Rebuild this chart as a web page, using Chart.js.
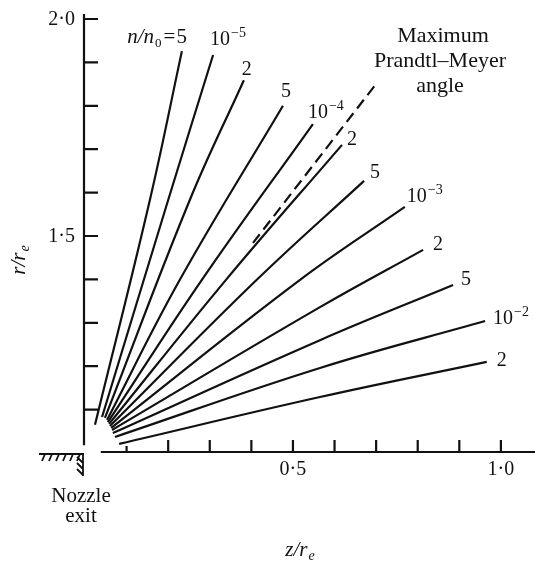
<!DOCTYPE html>
<html>
<head>
<meta charset="utf-8">
<script src="https://cdn.jsdelivr.net/npm/chart.js@4.4.0/dist/chart.umd.min.js"></script>
<style>
  html, body { margin: 0; padding: 0; background: #fff; }
  #wrap { width: 535px; height: 566px; position: relative; }
</style>
</head>
<body>
<div id="wrap"><canvas id="chart"></canvas></div>
<script>
// n/n0 contours behind the nozzle exit as (z/re, r/re)
const lineZ = [
    [0.024, 0.156, 0.233],
    [0.041, 0.200, 0.308],
    [0.048, 0.252, 0.382],
    [0.053, 0.228, 0.476],
    [0.055, 0.281, 0.548],
    [0.058, 0.339, 0.618],
    [0.060, 0.413, 0.671],
    [0.063, 0.517, 0.769],
    [0.065, 0.565, 0.813],
    [0.067, 0.565, 0.885],
    [0.072, 0.565, 0.962],
    [0.082, 0.565, 0.966]
];
const lineR = [
    [1.065, 1.583, 1.926],
    [1.083, 1.583, 1.917],
    [1.081, 1.583, 1.859],
    [1.076, 1.399, 1.800],
    [1.071, 1.399, 1.758],
    [1.067, 1.399, 1.710],
    [1.062, 1.399, 1.627],
    [1.058, 1.399, 1.567],
    [1.053, 1.336, 1.468],
    [1.046, 1.260, 1.387],
    [1.037, 1.196, 1.304],
    [1.021, 1.129, 1.210]
];
const labelMantissa = ['5', '10', '2', '5', '10', '2', '5', '10', '2', '5', '10', '2'];
const labelExponent = ['', '\u22125', '', '', '\u22124', '', '', '\u22123', '', '', '\u22122', ''];

// maximum Prandtl-Meyer angle (dashed)
const maxAngleZ = [0.404, 0.702];
const maxAngleR = [1.484, 1.853];

const xTicks = [0.1, 0.2, 0.3, 0.4, 0.5, 0.6, 0.7, 0.8, 0.9, 1.0];
const xTickLabels = ['', '', '', '', '0\u00b75', '', '', '', '', '1\u00b70'];
const yTicks = [1.1, 1.2, 1.3, 1.4, 1.5, 1.6, 1.7, 1.8, 1.9, 2.0];
const yTickLabels = ['', '', '', '', '1\u00b75', '', '', '', '', '2\u00b70'];

const ink = '#111';
const serif = '"Liberation Serif", "DejaVu Serif", serif';
const font = (size, italic) => (italic ? 'italic ' : '') + size + 'px ' + serif;

// label placement relative to the outer end of each line: [dx, dy, align]
const labelPos = [
    [5, -8, 'right'],
    [-3, -10, 'left'],
    [3, -5, 'center'],
    [3, -9, 'center'],
    [-5, -6, 'left'],
    [10, 0, 'center'],
    [11, -3, 'center'],
    [2, -5, 'left'],
    [15, 0, 'center'],
    [13, 0, 'center'],
    [8, 3, 'left'],
    [15, 4, 'center']
];

const datasets = lineZ.map((zs, i) => ({
    data: zs.map((z, j) => ({ x: z, y: lineR[i][j] })),
    showLine: true,
    borderColor: ink,
    borderWidth: 2.2,
    pointRadius: 0,
    tension: 0.4,
    fill: false
}));
datasets.push({
    data: maxAngleZ.map((z, j) => ({ x: z, y: maxAngleR[j] })),
    showLine: true,
    borderColor: ink,
    borderWidth: 2.2,
    borderDash: [11, 6],
    pointRadius: 0,
    fill: false
});

function drawSup(ctx, x, y, base, sup) {
    ctx.textAlign = 'left';
    ctx.font = font(20);
    ctx.fillText(base, x, y);
    const w = ctx.measureText(base).width;
    ctx.font = font(14);
    ctx.fillText(sup, x + w + 1, y - 8);
}

const annotate = {
    id: 'annotate',
    afterDraw(chart) {
        const ctx = chart.ctx;
        const xs = chart.scales.x;
        const ys = chart.scales.y;
        const x0 = xs.getPixelForValue(0) - 1;
        const y0 = ys.getPixelForValue(1.0) - 1;
        ctx.save();
        ctx.strokeStyle = ink;
        ctx.fillStyle = ink;
        ctx.lineWidth = 2.2;

        // r axis
        ctx.beginPath();
        ctx.moveTo(x0, ys.getPixelForValue(2.0115));
        ctx.lineTo(x0, ys.getPixelForValue(1.018));
        yTicks.forEach(v => {
            const p = ys.getPixelForValue(v);
            ctx.moveTo(x0, p);
            ctx.lineTo(x0 + 14, p);
        });
        ctx.stroke();

        // z axis
        ctx.beginPath();
        ctx.moveTo(xs.getPixelForValue(0.038), y0);
        ctx.lineTo(chart.width, y0);
        xTicks.forEach((v, i) => {
            const p = xs.getPixelForValue(v);
            ctx.moveTo(p, y0);
            ctx.lineTo(p, y0 - (i === 0 ? 6 : 12));
        });
        ctx.stroke();

        ctx.font = font(20);
        ctx.textAlign = 'right';
        ctx.textBaseline = 'middle';
        yTicks.forEach((v, i) => {
            if (yTickLabels[i]) ctx.fillText(yTickLabels[i], x0 - 9, ys.getPixelForValue(v) + 1);
        });
        ctx.textAlign = 'center';
        ctx.textBaseline = 'alphabetic';
        xTicks.forEach((v, i) => {
            if (xTickLabels[i]) ctx.fillText(xTickLabels[i], xs.getPixelForValue(v), y0 + 23);
        });

        // nozzle wall hatching
        const hy = y0 + 2;
        ctx.lineWidth = 1.8;
        ctx.beginPath();
        ctx.moveTo(x0 - 45, hy);
        ctx.lineTo(x0, hy);
        ctx.moveTo(x0 - 1, hy);
        ctx.lineTo(x0 - 1, hy + 22);
        for (let i = 0; i < 6; i++) {
            const hx = x0 - 39 + i * 7;
            ctx.moveTo(hx, hy);
            ctx.lineTo(hx - 3, hy + 7);
        }
        for (let i = 0; i < 3; i++) {
            const vy = hy + 3 + i * 6;
            ctx.moveTo(x0 - 7, vy);
            ctx.lineTo(x0 - 1, vy + 6);
        }
        ctx.stroke();

        // contour labels
        ctx.textBaseline = 'alphabetic';
        lineZ.forEach((zs, i) => {
            const last = zs.length - 1;
            const px = xs.getPixelForValue(zs[last]);
            const py = ys.getPixelForValue(lineR[i][last]);
            const [dx, dy, align] = labelPos[i];
            const lx = px + dx;
            const ly = py + dy;
            if (i === 0) {
                // n/n0 = 5
                const parts = [
                    ['n/n', font(21, true), 0, 1],
                    ['0', font(13), 4, 2],
                    ['=', font(21), 0, 1],
                    ['5', font(21), 0, 0]
                ];
                let total = 0;
                parts.forEach(p => { ctx.font = p[1]; total += ctx.measureText(p[0]).width + p[3]; });
                let cx = lx - total;
                ctx.textAlign = 'left';
                parts.forEach(p => {
                    ctx.font = p[1];
                    ctx.fillText(p[0], cx, ly + p[2]);
                    cx += ctx.measureText(p[0]).width + p[3];
                });
            } else if (labelExponent[i]) {
                drawSup(ctx, lx, ly, labelMantissa[i], labelExponent[i]);
            } else {
                ctx.font = font(20);
                ctx.textAlign = align;
                ctx.fillText(labelMantissa[i], lx, ly);
            }
        });

        // free text
        ctx.textAlign = 'center';
        ctx.font = font(22);
        ctx.fillText('Maximum', 443, 42);
        ctx.fillText('Prandtl\u2013Meyer', 440, 67);
        ctx.fillText('angle', 440, 92);
        ctx.font = font(21);
        ctx.fillText('Nozzle', 81, 502);
        ctx.fillText('exit', 81, 522);

        // axis titles
        const title = (x, y, rot) => {
            ctx.save();
            ctx.translate(x, y);
            ctx.rotate(rot);
            ctx.textAlign = 'left';
            ctx.font = font(21, true);
            const w1 = ctx.measureText('z/r').width;
            ctx.font = font(14, true);
            const w2 = ctx.measureText('e').width;
            const sx = -(w1 + w2 + 1) / 2;
            ctx.font = font(21, true);
            ctx.fillText(rot ? 'r/r' : 'z/r', sx, 0);
            ctx.font = font(14, true);
            ctx.fillText('e', sx + w1 + 1, 4);
            ctx.restore();
        };
        title(300, 556, 0);
        title(25, 260, -Math.PI / 2);

        ctx.restore();
    }
};

new Chart(document.getElementById('chart'), {
    type: 'scatter',
    data: { datasets },
    options: {
        responsive: true,
        maintainAspectRatio: false,
        animation: false,
        events: [],
        layout: { padding: { left: 85, top: 14, right: 0, bottom: 113 } },
        plugins: { legend: { display: false }, tooltip: { enabled: false } },
        scales: {
            x: { type: 'linear', min: 0, max: 1.082, display: false },
            y: { type: 'linear', min: 1.0, max: 2.0115, display: false }
        }
    },
    plugins: [annotate]
});
</script>
</body>
</html>
